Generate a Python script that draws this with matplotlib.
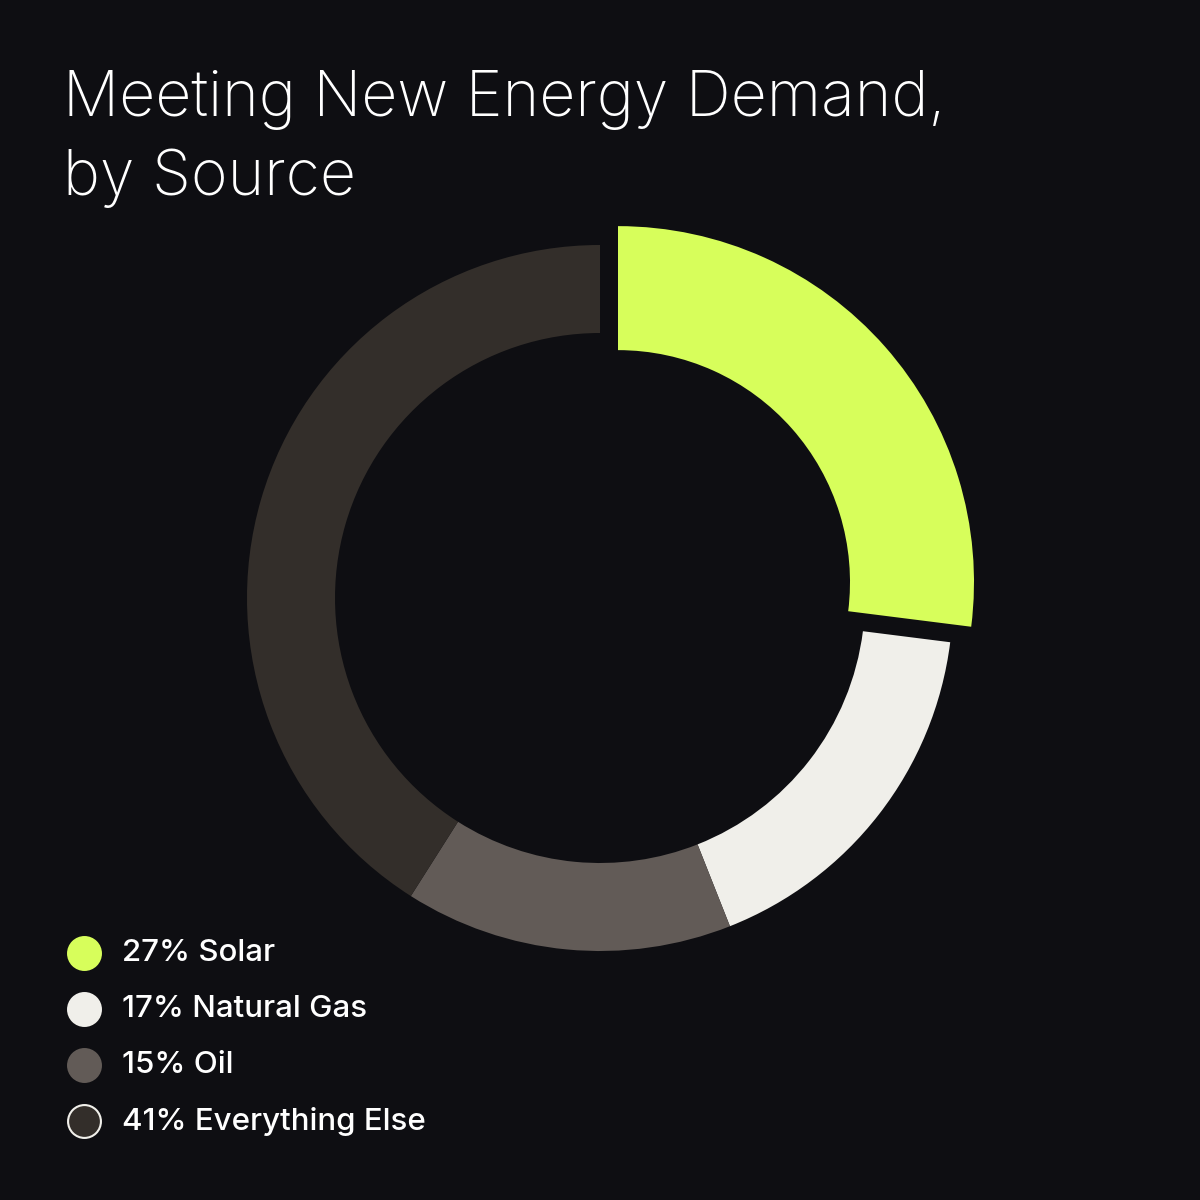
import matplotlib.pyplot as plt

plt.rcParams['font.family'] = ['Inter', 'DejaVu Sans']

# data
sources = ["Solar", "Natural Gas", "Oil", "Everything Else"]
shares = [27, 17, 15, 41]
colors = ["#D7FE5B", "#F0EFEA", "#625B57", "#332E2A"]
title = "Meeting New Energy Demand,\nby Source"

bg = "#0E0E12"

fig = plt.figure(figsize=(12, 12), dpi=100, facecolor=bg)
ax = fig.add_axes([0, 0, 1, 1])
ax.set_facecolor(bg)

# donut, pixel coordinates (y up)
wedges, _ = ax.pie(shares, colors=colors, startangle=90, counterclock=False,
                   radius=353, center=(600, 602),
                   explode=[24, 0, 0, 0],
                   wedgeprops=dict(width=88, linewidth=0))

# the solar slice is drawn thicker than the rest
wedges[0].set_radius(356)
wedges[0].set_width(124)

ax.set_xlim(0, 1200)
ax.set_ylim(0, 1200)
ax.set_aspect('equal')
ax.axis('off')

# title
fig.text(63 / 1200, 1 - 70 / 1200, title, color="white", fontsize=45,
         fontweight="light", va="top", ha="left", linespacing=1.4)

# legend
y0 = 953
for i, (name, val, c) in enumerate(zip(sources, shares, colors)):
    y = 1200 - (y0 + i * 56)
    ec = "#F0EFEA" if i == 3 else c
    ax.scatter([84], [y], s=560, color=c, edgecolors=ec, linewidths=1.5, zorder=3)
    ax.text(122, y, f"{val}% {name}", color="white", fontsize=22.5,
            fontweight="medium", va="center", ha="left")

fig.savefig("out.png", dpi=100, facecolor=bg)
